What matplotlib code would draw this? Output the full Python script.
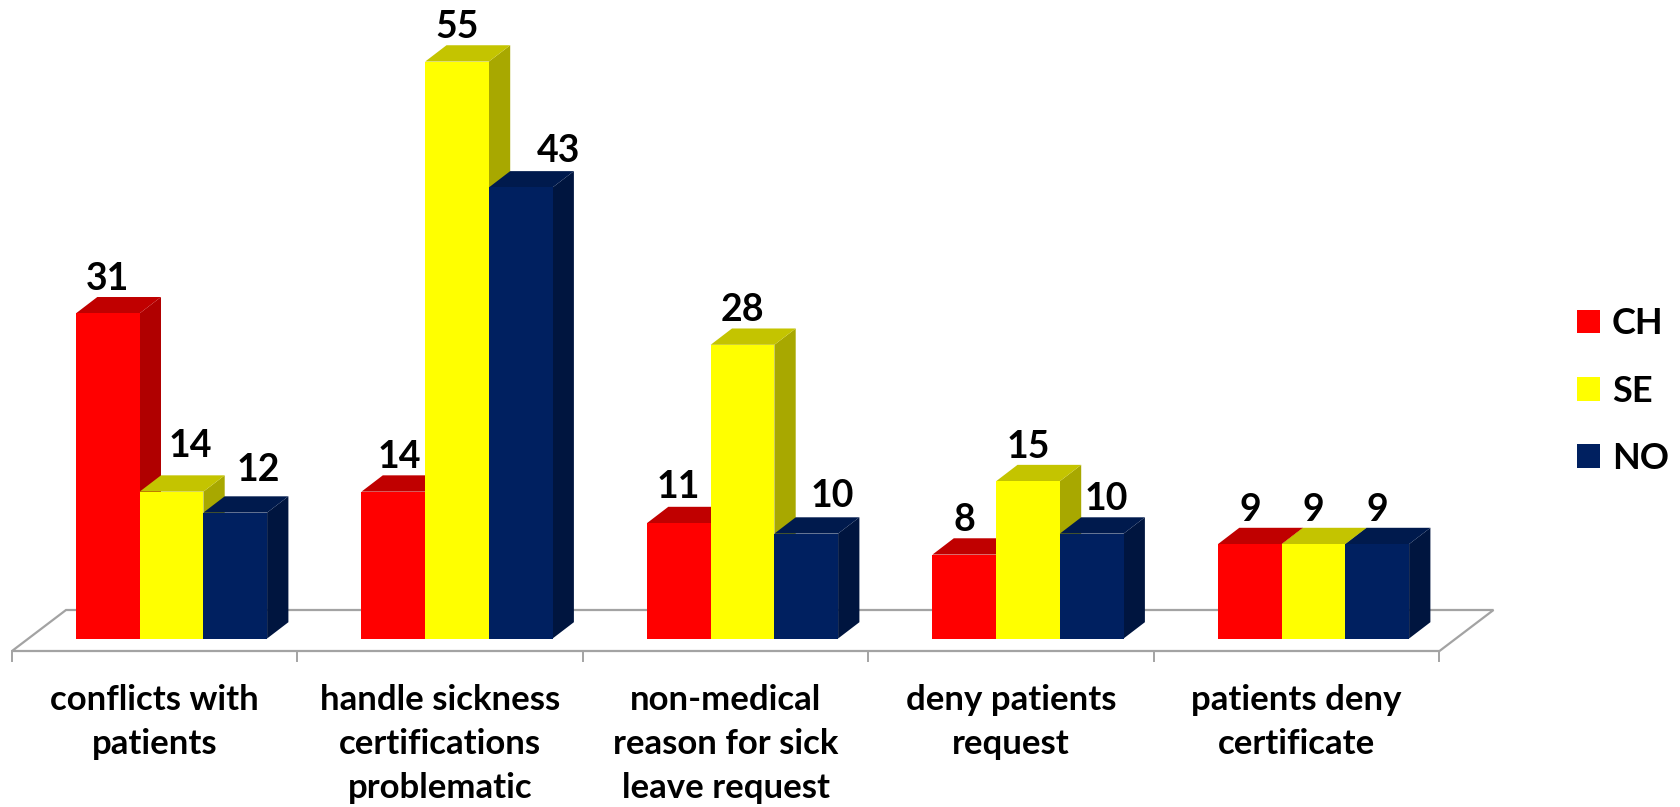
import matplotlib
matplotlib.use("Agg")
import matplotlib.pyplot as plt
from matplotlib.patches import Polygon, Rectangle

plt.rcParams['font.family'] = ['Lato', 'DejaVu Sans']

# DATA
categories = ["conflicts with\npatients",
              "handle sickness\ncertifications\nproblematic",
              "non-medical\nreason for sick\nleave request",
              "deny patients\nrequest",
              "patients deny\ncertificate"]
series_names = ["CH", "SE", "NO"]
ch_values = [31, 14, 11, 8, 9]
se_values = [14, 55, 28, 15, 9]
no_values = [12, 43, 10, 10, 9]

# front, side, top
colors = {"CH": ("#FF0000", "#B00000", "#C00000"),
          "SE": ("#FFFF00", "#A8A800", "#C4C400"),
          "NO": ("#002060", "#00153F", "#001A4D")}

# value labels that sit off centre in the picture: (category, series): (px right, px up)
label_shift = {(0, "SE"): (19, 11), (0, "NO"): (23, 8),
               (1, "CH"): (6, 0), (1, "NO"): (38, 2),
               (2, "CH"): (-1, 2), (2, "NO"): (26, 3),
               (3, "NO"): (15, 0)}

W, H = 1680, 807
PX_X = 285.5   # px per category
PX_Y = 10.49   # px per value unit
X0 = 12        # px of left floor corner
Y0 = 638.5     # px of the bars base

fig = plt.figure(figsize=(W / 100, H / 100), dpi=100)
ax = fig.add_axes([0, 0, 1, 1])
ax.set_xlim(-X0 / PX_X, (W - X0) / PX_X)
ax.set_ylim((Y0 - H) / PX_Y, Y0 / PX_Y)
ax.axis("off")

depth_x = 21.3 / PX_X
depth_y = 16.3 / PX_Y
bar_w = 63.7 / PX_X
bar_off = 64 / PX_X

# floor
grey = "#A3A3A3"
n = len(categories)
fl_front = -12.5 / PX_Y
fl_back = 28.5 / PX_Y
fl_dx = 54 / PX_X
ax.add_patch(Polygon([(0, fl_front), (n, fl_front), (n + fl_dx, fl_back), (fl_dx, fl_back)],
                     closed=True, fc="white", ec=grey, lw=1.6, zorder=1))
for i in range(n + 1):
    ax.plot([i, i], [fl_front, fl_front - 10 / PX_Y], color=grey, lw=1.4, zorder=1)

# bars
all_values = {"CH": ch_values, "SE": se_values, "NO": no_values}
z = 2
for i in range(n):
    for j, name in enumerate(series_names):
        v = all_values[name][i]
        x = i + bar_off + j * bar_w
        front, side, top = colors[name]
        ax.add_patch(Polygon([(x + bar_w, 0), (x + bar_w + depth_x, depth_y),
                              (x + bar_w + depth_x, v + depth_y), (x + bar_w, v)],
                             closed=True, fc=side, ec="none", zorder=z))
        ax.add_patch(Polygon([(x, v), (x + depth_x, v + depth_y),
                              (x + bar_w + depth_x, v + depth_y), (x + bar_w, v)],
                             closed=True, fc=top, ec="none", zorder=z))
        ax.add_patch(Rectangle((x, 0), bar_w, v, fc=front, ec="none", zorder=z + 1))
        z += 2

for i in range(n):
    for j, name in enumerate(series_names):
        v = all_values[name][i]
        sx, sy = label_shift.get((i, name), (0, 0))
        x = i + bar_off + j * bar_w + bar_w / 2 + sx / PX_X
        ax.text(x, v + depth_y + (7 + sy) / PX_Y, str(v), ha="center", va="baseline",
                fontsize=27, fontweight="bold", color="black", zorder=100)

# category labels
for i, label in enumerate(categories):
    ax.text(i + 0.5, -45 / PX_Y, label, ha="center", va="top", fontsize=25,
            fontweight="bold", color="black", linespacing=1.48, zorder=100)

# legend
handles = [Rectangle((0, 0), 1, 1, fc=colors[s][0], ec="none") for s in series_names]
ax.legend(handles, series_names, loc="center left", bbox_to_anchor=(1577 / W, 1 - 391 / H),
          frameon=False, prop={"size": 26, "weight": "bold"}, handlelength=0.64,
          handleheight=0.64, handletextpad=0.33, labelspacing=0.95, borderaxespad=0, borderpad=0)

fig.savefig("out.png", dpi=100)
